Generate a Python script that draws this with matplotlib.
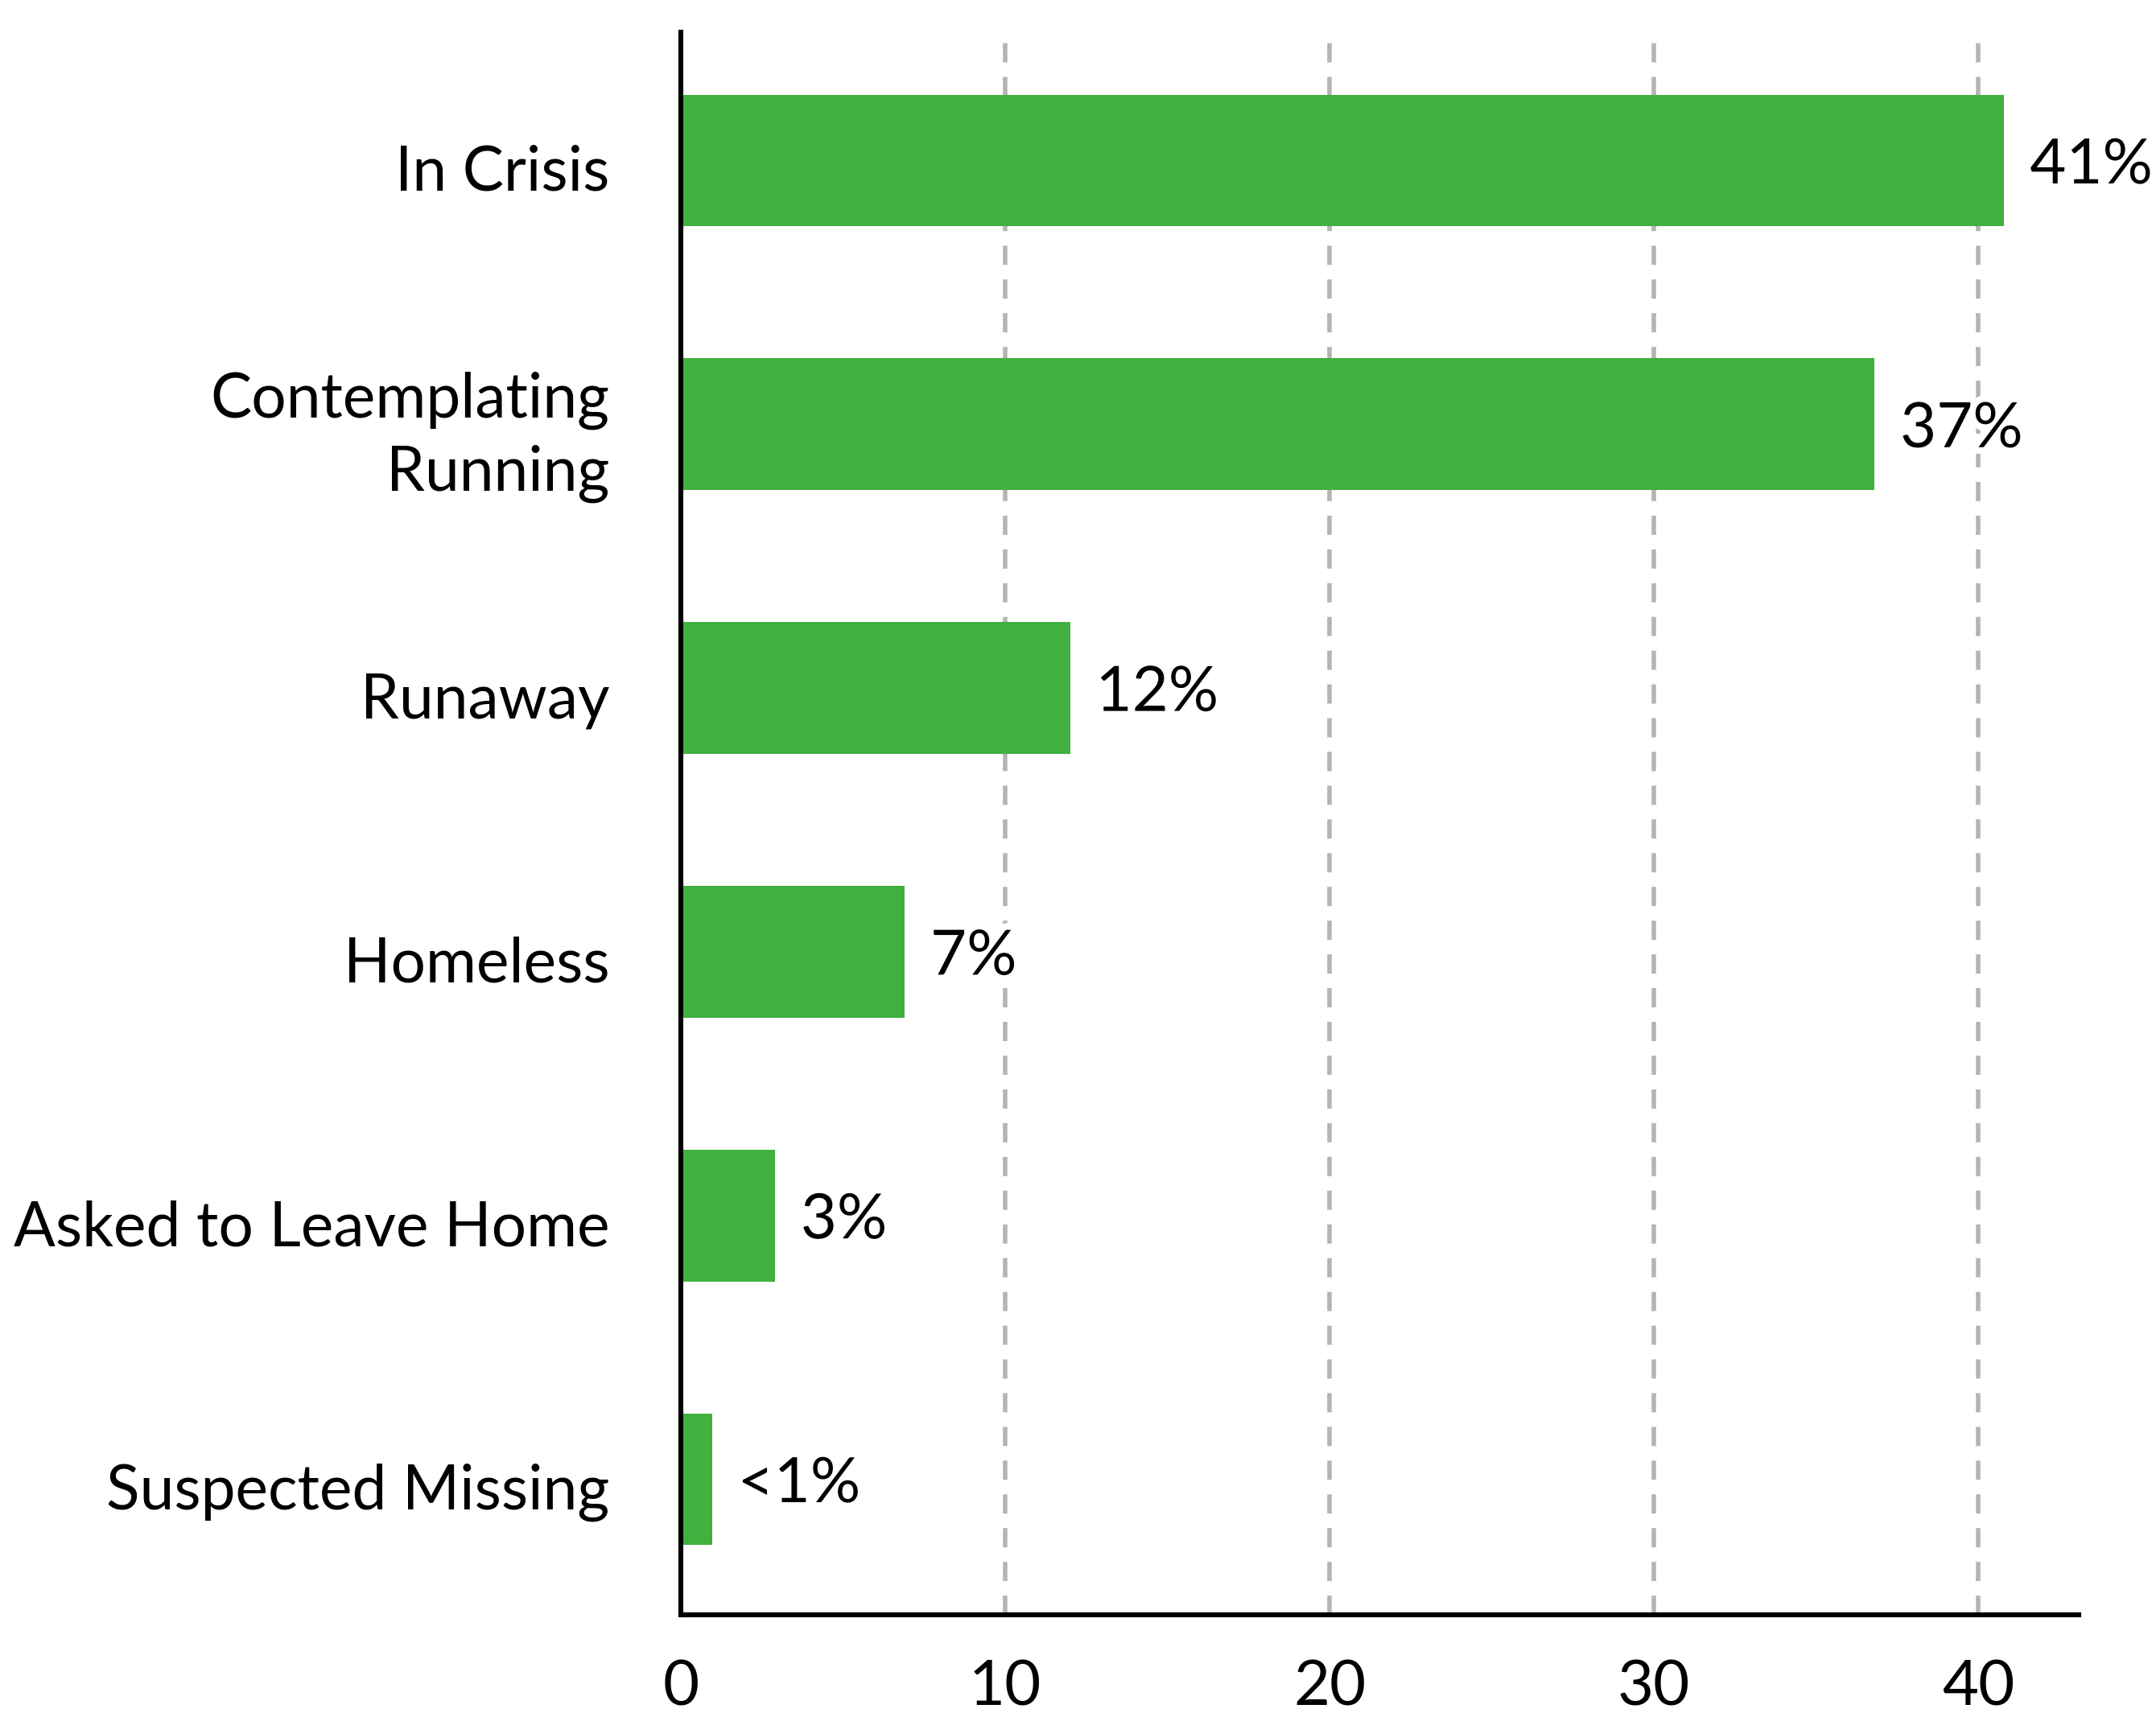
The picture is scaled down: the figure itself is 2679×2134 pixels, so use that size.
import matplotlib
matplotlib.use('Agg')
import matplotlib.pyplot as plt
import matplotlib.patheffects as pe
from matplotlib.transforms import ScaledTranslation

# data
categories = ['In Crisis', 'Contemplating\nRunning', 'Runaway', 'Homeless',
              'Asked to Leave Home', 'Suspected Missing']
values = [40.8, 36.8, 12.0, 6.9, 2.9, 0.96]
value_labels = ['41%', '37%', '12%', '7%', '3%', '<1%']
xticks = [0, 10, 20, 30, 40]

plt.rcParams['font.family'] = ['Lato', 'DejaVu Sans']

fig = plt.figure(figsize=(13.395, 10.67), dpi=200)
ax = fig.add_axes([0.3158, 0.0595, 0.9642 - 0.3158, 0.9813 - 0.0595])

ypos = list(range(len(categories)))
ax.barh(ypos, values, height=0.5, color='#40B03E', zorder=2)

# value labels next to bars
for y, v, lab in zip(ypos, values, value_labels):
    ax.annotate(lab, (v, y), xytext=(11.5, -2.5), textcoords='offset points',
                ha='left', va='center', fontsize=28, color='black', zorder=3,
                path_effects=[pe.withStroke(linewidth=6, foreground='white')])

ax.set_xlim(0, 43.1)
ax.set_ylim(5.514, -0.487)
ax.set_yticks(ypos)
ax.set_yticklabels(categories, fontsize=27.6, linespacing=1.33)
ax.set_xticks(xticks)
ax.set_xticklabels([str(t) for t in xticks], fontsize=28)
ax.tick_params(axis='y', length=0, pad=32)
ax.tick_params(axis='x', length=0, pad=20)

# nudge category labels a little down, like the original
# (the two-line one sits a bit higher)
for lab in ax.get_yticklabels():
    dy = 0.4 if '\n' in lab.get_text() else -3.2
    lab.set_transform(lab.get_transform() + ScaledTranslation(0, dy / 72, fig.dpi_scale_trans))

# dashed vertical grid, not at zero
for t in xticks[1:]:
    ax.axvline(t, color='#B4B4B4', linewidth=2, dashes=(4.3, 3.25), zorder=1)

for side in ['top', 'right']:
    ax.spines[side].set_visible(False)
for side in ['left', 'bottom']:
    ax.spines[side].set_linewidth(2.2)
    ax.spines[side].set_color('black')

plt.savefig('out.png', dpi=200, facecolor='white')
